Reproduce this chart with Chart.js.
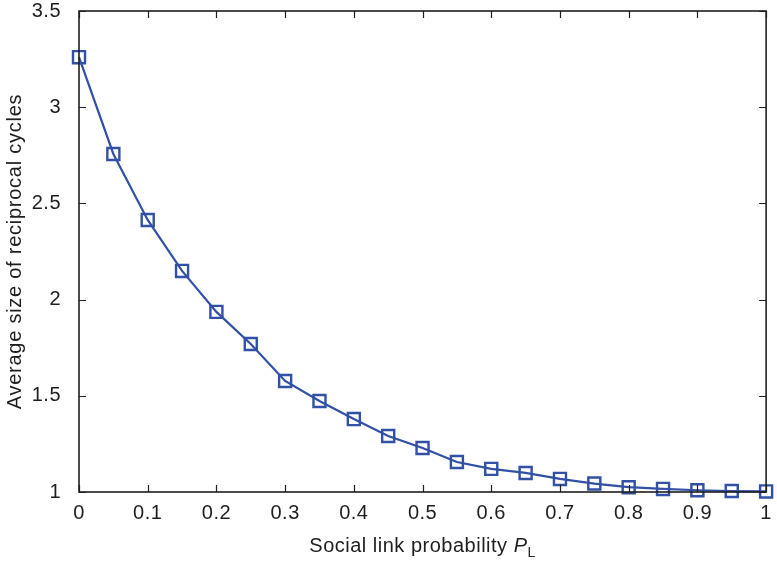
<!DOCTYPE html>
<html>
<head>
<meta charset="utf-8">
<script src="https://cdn.jsdelivr.net/npm/chart.js@4/dist/chart.umd.min.js"></script>
<style>
  html, body { margin: 0; padding: 0; background: #fff; }
  #wrap { width: 777px; height: 561px; }
</style>
</head>
<body>
<div id="wrap"><canvas id="chart" width="777" height="561"></canvas></div>
<script>
// data
const linkProb = [0, 0.05, 0.1, 0.15, 0.2, 0.25, 0.3, 0.35, 0.4, 0.45, 0.5,
  0.55, 0.6, 0.65, 0.7, 0.75, 0.8, 0.85, 0.9, 0.95, 1];
const avgCycleSize = [3.26, 2.757, 2.414, 2.149, 1.936, 1.769, 1.577, 1.473, 1.379, 1.291, 1.229,
  1.156, 1.12, 1.099, 1.068, 1.044, 1.025, 1.016, 1.009, 1.005, 1.003];
const yTicks = [1, 1.5, 2, 2.5, 3, 3.5];
const xTitle = 'Social link probability ';
const yTitle = 'Average size of reciprocal cycles';

const FONT = '"Liberation Sans", Arial, Helvetica, sans-serif';
const blue = '#3150a6';
const ink = '#1e1e1e';
const fmt = v => String(+Number(v).toFixed(2));

// the figure's lettering is a touch wider than Liberation Sans
const spacingPlugin = {
  id: 'spacing',
  beforeDraw(chart) { chart.ctx.letterSpacing = '0.5px'; }
};

// MATLAB-like box with inward ticks + axis titles
const boxPlugin = {
  id: 'box',
  afterDraw(chart) {
    const ctx = chart.ctx;
    const a = chart.chartArea;
    const xs = chart.scales.x, ys = chart.scales.y;
    ctx.save();
    ctx.strokeStyle = ink;
    ctx.lineWidth = 1.6;
    ctx.strokeRect(a.left, a.top, a.right - a.left, a.bottom - a.top);
    ctx.lineWidth = 1.2;
    const t = 7;
    xs.ticks.forEach(tk => {
      const px = Math.round(xs.getPixelForValue(tk.value)) + 0.5;
      ctx.beginPath();
      ctx.moveTo(px, a.bottom); ctx.lineTo(px, a.bottom - t);
      ctx.moveTo(px, a.top); ctx.lineTo(px, a.top + t);
      ctx.stroke();
    });
    ys.ticks.forEach(tk => {
      const py = Math.round(ys.getPixelForValue(tk.value)) + 0.5;
      ctx.beginPath();
      ctx.moveTo(a.left, py); ctx.lineTo(a.left + t, py);
      ctx.moveTo(a.right, py); ctx.lineTo(a.right - t, py);
      ctx.stroke();
    });

    // x title with italic P and subscript L
    ctx.fillStyle = ink;
    ctx.letterSpacing = '0.5px';
    ctx.textBaseline = 'alphabetic';
    const f1 = '20px ' + FONT, fi = 'italic 20px ' + FONT, fs = '14px ' + FONT;
    ctx.font = f1; const w1 = ctx.measureText(xTitle).width;
    ctx.font = fi; const w2 = ctx.measureText('P').width;
    ctx.font = fs; const w3 = ctx.measureText('L').width;
    let x0 = (a.left + a.right) / 2 - (w1 + w2 + w3) / 2;
    const yb = 552;
    ctx.font = f1; ctx.fillText(xTitle, x0, yb);
    ctx.font = fi; ctx.fillText('P', x0 + w1, yb);
    ctx.font = fs; ctx.fillText('L', x0 + w1 + w2, yb + 5);

    // y title
    ctx.letterSpacing = '0.75px';
    ctx.translate(21, (a.top + a.bottom) / 2);
    ctx.rotate(-Math.PI / 2);
    ctx.font = f1;
    ctx.textAlign = 'center';
    ctx.fillText(yTitle, 0, 0);
    ctx.restore();
  }
};

new Chart(document.getElementById('chart'), {
  type: 'line',
  data: {
    datasets: [{
      data: linkProb.map((x, i) => ({ x: x, y: avgCycleSize[i] })),
      borderColor: blue,
      borderWidth: 2.2,
      pointStyle: 'rect',
      pointRadius: 8.5,
      pointBorderWidth: 2.4,
      pointBorderColor: blue,
      pointBackgroundColor: 'rgba(0,0,0,0)',
      tension: 0,
      clip: false
    }]
  },
  options: {
    responsive: false,
    animation: false,
    layout: { padding: { left: 0, right: 5, top: 11, bottom: 0 } },
    plugins: { legend: { display: false }, tooltip: { enabled: false } },
    scales: {
      x: {
        type: 'linear', min: 0, max: 1,
        grid: { display: false },
        border: { display: false },
        ticks: { stepSize: 0.1, color: ink, font: { family: FONT, size: 20 }, padding: 1,
          maxRotation: 0, callback: fmt },
        afterFit(s) { s.height = 561 - 492; s.paddingLeft = 0; s.paddingRight = 0; }
      },
      y: {
        type: 'linear', min: 1, max: 3.5,
        grid: { display: false },
        border: { display: false },
        afterBuildTicks(s) { s.ticks = yTicks.map(v => ({ value: v })); },
        ticks: { color: ink, font: { family: FONT, size: 20 }, padding: 10, callback: fmt },
        afterFit(s) { s.width = 79; s.paddingTop = 0; s.paddingBottom = 0; }
      }
    }
  },
  plugins: [spacingPlugin, boxPlugin]
});
</script>
</body>
</html>
